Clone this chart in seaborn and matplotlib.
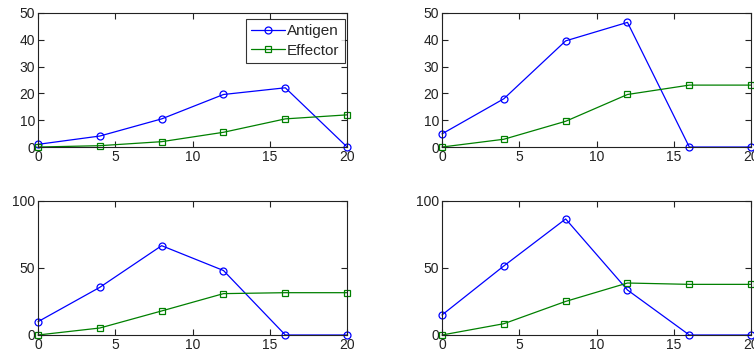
import matplotlib
matplotlib.use("Agg")
import matplotlib.pyplot as plt
import seaborn as sns
import pandas as pd

sns.set_theme(style="ticks")
plt.rcParams['font.family'] = ['Liberation Sans', 'DejaVu Sans']

time = [0, 4, 8, 12, 16, 20]
antigen_1 = [1.0, 4.1, 10.5, 19.6, 22.1, 0.0]
effector_1 = [0.0, 0.5, 2.0, 5.5, 10.5, 12.0]
antigen_2 = [4.9, 18.0, 39.6, 46.5, 0.0, 0.0]
effector_2 = [0.0, 2.9, 9.6, 19.6, 23.1, 23.1]
antigen_3 = [9.9, 35.5, 66.5, 48.0, 0.0, 0.0]
effector_3 = [0.0, 5.2, 17.9, 30.8, 31.5, 31.5]
antigen_4 = [14.9, 51.4, 86.4, 33.5, 0.0, 0.0]
effector_4 = [0.0, 8.4, 25.0, 38.7, 37.7, 37.7]

panels = [(antigen_1, effector_1, 50, [0, 10, 20, 30, 40, 50]),
          (antigen_2, effector_2, 50, [0, 10, 20, 30, 40, 50]),
          (antigen_3, effector_3, 100, [0, 50, 100]),
          (antigen_4, effector_4, 100, [0, 50, 100])]
xticks = [0, 5, 10, 15, 20]

fig = plt.figure(figsize=(7.54, 3.56), dpi=100)
positions = [[0.0504, 0.587, 0.410, 0.3765],
             [0.5862, 0.587, 0.410, 0.3765],
             [0.0504, 0.059, 0.410, 0.3773],
             [0.5862, 0.059, 0.410, 0.3773]]

for i, ((ag, ef, ymax, yt), pos) in enumerate(zip(panels, positions)):
    ax = fig.add_axes(pos)
    df = pd.DataFrame({"t": time + time,
                       "v": ag + ef,
                       "s": ["Antigen"] * len(time) + ["Effector"] * len(time)})
    sns.lineplot(data=df[df.s == "Antigen"], x="t", y="v", ax=ax, color=(0, 0, 1),
                 marker="o", markersize=5, markerfacecolor="none", markeredgecolor=(0, 0, 1),
                 markeredgewidth=0.9, linewidth=0.9, label="Antigen", clip_on=False,
                 legend=(i == 0))
    sns.lineplot(data=df[df.s == "Effector"], x="t", y="v", ax=ax, color=(0, 0.5, 0),
                 marker="s", markersize=4.8, markerfacecolor="none", markeredgecolor=(0, 0.5, 0),
                 markeredgewidth=0.9, linewidth=0.9, label="Effector", clip_on=False,
                 legend=(i == 0))
    ax.set_xlim(0, 20)
    ax.set_ylim(0, ymax)
    ax.set_xticks(xticks)
    ax.set_yticks(yt)
    ax.set_xlabel("")
    ax.set_ylabel("")
    for sp in ax.spines.values():
        sp.set_visible(True)
        sp.set_color("#222222")
        sp.set_linewidth(0.8)
    ax.tick_params(direction="in", length=4, width=0.8, top=True, right=True,
                   labelsize=10, colors="#222222", pad=2)
    if i == 0:
        leg = ax.legend(loc="upper right", fontsize=11, frameon=True, fancybox=False,
                        edgecolor="black", borderpad=0.35, handlelength=2.2,
                        handletextpad=0.15, labelspacing=0.35, borderaxespad=0,
                        bbox_to_anchor=(0.993, 0.955))
        leg.get_frame().set_linewidth(0.8)

fig.savefig("out.png", dpi=100)
